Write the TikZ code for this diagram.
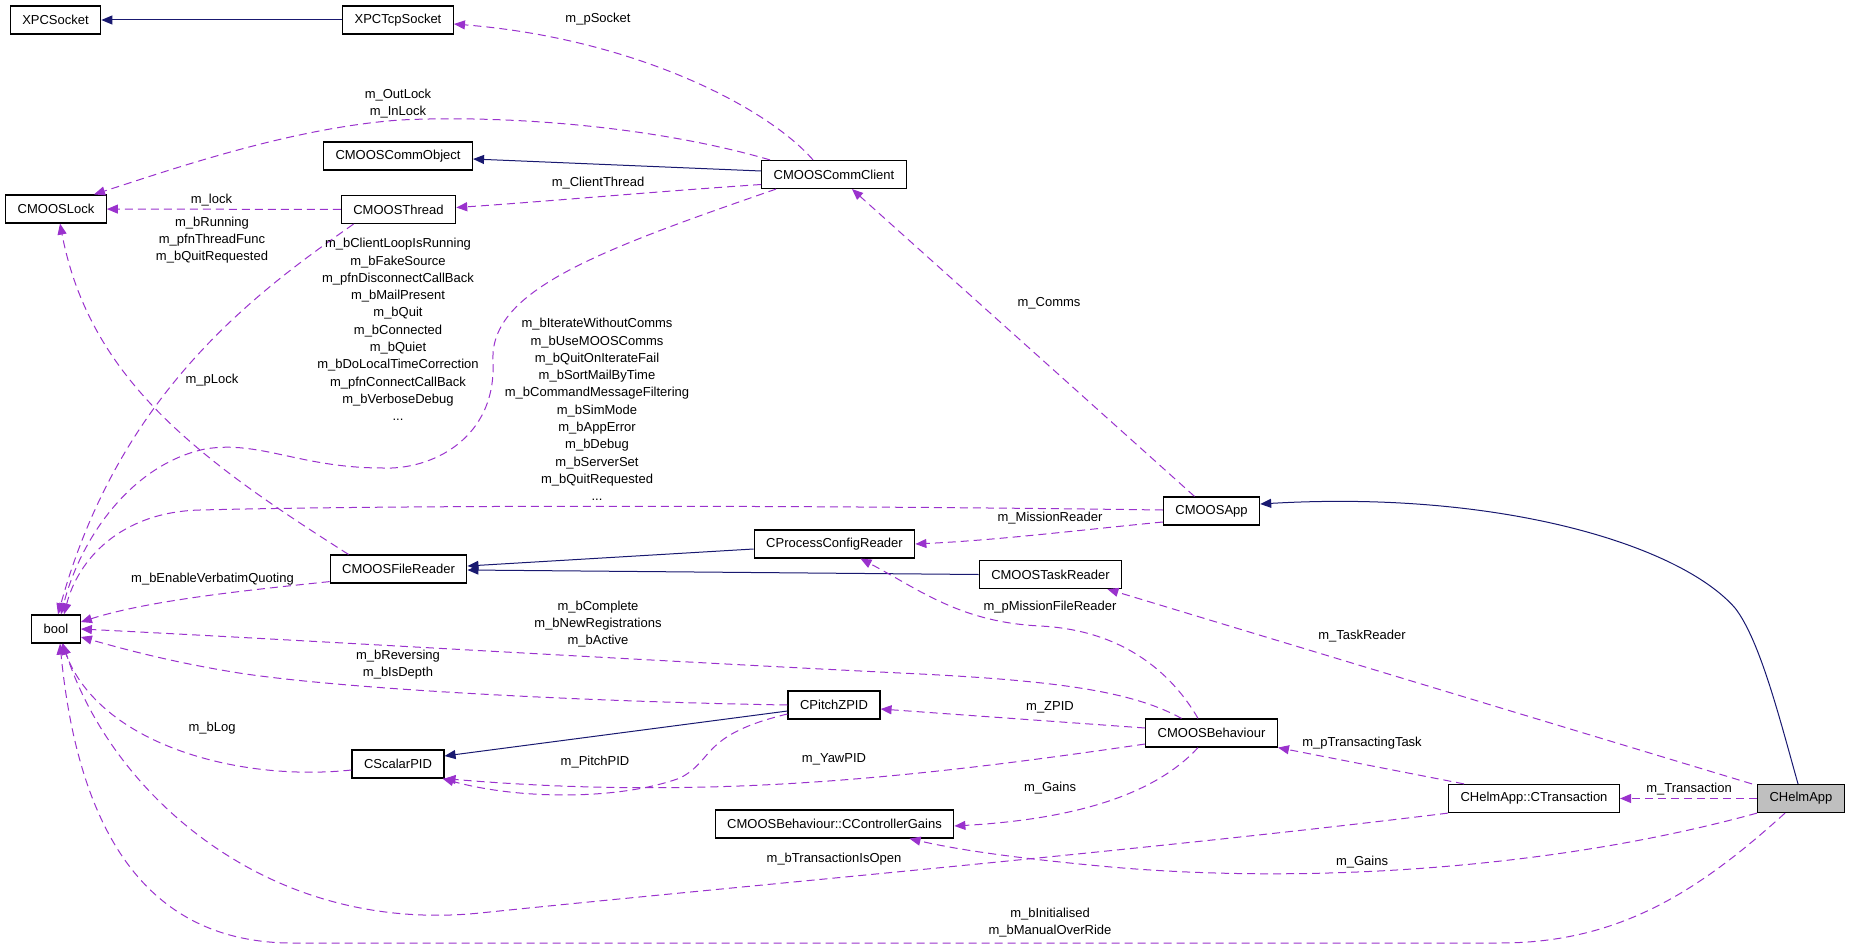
\documentclass[tikz,border=0pt]{standalone}
\usepackage{fontspec}
\setmainfont{Liberation Sans}
\usetikzlibrary{arrows.meta}
\definecolor{depc}{HTML}{9A32CD}
\definecolor{inhc}{HTML}{191970}

\begin{document}
\begin{tikzpicture}
          [x=1pt, y=-1pt,
           cls/.style={rectangle,draw=black,fill=white,line width=1.2pt,
                       minimum height=28pt,inner xsep=12pt,inner ysep=0pt},
           cur/.style={cls,fill=black!25},
           lbl/.style={align=center,inner sep=0pt},
           inh/.style={draw=inhc,line width=1pt,-{Triangle[length=11pt,width=9pt]}},
           dep/.style={draw=depc,line width=1pt,dash pattern=on 8pt off 5pt,
                       -{Triangle[length=11pt,width=9pt]}},
           every node/.style={font=\fontsize{13}{17.3}\selectfont}
          ]
          \useasboundingbox (0,0) rectangle (1851,949);
          \node[cls] (xsock) at (55.5,20) {XPCSocket};
          \node[cls] (xtcp) at (398,20) {XPCTcpSocket};
          \node[cls] (cobj) at (398,156) {CMOOSCommObject};
          \node[cls] (lock) at (56,209) {CMOOSLock};
          \node[cls] (thread) at (398.5,209.5) {CMOOSThread};
          \node[cls] (client) at (834,174.5) {CMOOSCommClient};
          \node[cls] (bool) at (56,629) {bool};
          \node[cls] (freader) at (398.5,569) {CMOOSFileReader};
          \node[cls] (scalar) at (398,764) {CScalarPID};
          \node[cls] (pcr) at (834.5,544) {CProcessConfigReader};
          \node[cls] (treader) at (1050.5,574.5) {CMOOSTaskReader};
          \node[cls] (app) at (1211.5,511) {CMOOSApp};
          \node[cls] (pitch) at (834,705) {CPitchZPID};
          \node[cls] (beh) at (1211.5,733) {CMOOSBehaviour};
          \node[cls] (gains) at (834.5,824) {CMOOSBehaviour::CControllerGains};
          \node[cls] (trans) at (1534,798.5) {CHelmApp::CTransaction};
          \node[cur] (helm) at (1801,798.5) {CHelmApp};

          % inheritance
          \draw[inh] (xtcp) -- (xsock);
          \draw[inh] ([yshift=3.5pt]client.west) -- ([yshift=-3pt]cobj.east);
          \draw[inh] ([yshift=-5pt]pcr.west) -- ([yshift=3pt]freader.east);
          \draw[inh] (treader.west) -- ([yshift=-1pt]freader.east);
          \draw[inh] ([yshift=-6pt]pitch.west) -- ([yshift=8pt]scalar.east);
          \draw[inh] ([xshift=-3pt]helm.north) .. controls (1780,720) and (1760,640) .. (1735,608)
                     .. controls (1680,545) and (1500,490) .. ([yshift=7pt]app.east);

          % members
          \draw[dep] ([xshift=-21pt]client.north) .. controls (765,105) and (630,38) .. ([yshift=-4pt]xtcp.east);
          \draw[dep] ([xshift=-64pt]client.north) .. controls (650,125) and (500,115) .. (400,120)
                     .. controls (290,128) and (170,170) .. ([xshift=38pt]lock.north);
          \draw[dep] ([yshift=-10pt]client.west) .. controls (650,192) and (540,202) .. ([yshift=2pt]thread.east);
          \draw[dep] (thread) -- (lock);
          \draw[dep] ([xshift=-58pt]client.south) .. controls (600,250) and (490,290) .. (493,360)
                     .. controls (497,440) and (430,470) .. (383,468)
                     .. controls (300,468) and (260,440) .. (205,449)
                     .. controls (130,465) and (80,540) .. ([xshift=5pt]bool.north);
          \draw[dep] ([xshift=-45pt]thread.south) .. controls (260,290) and (120,390) .. ([xshift=2pt]bool.north);
          \draw[dep] ([yshift=1pt]app.west) .. controls (800,505) and (400,505) .. (200,510)
                     .. controls (120,512) and (78,560) .. ([xshift=8pt]bool.north);
          \draw[dep] ([xshift=-50pt]freader.north) .. controls (200,460) and (90,380) .. ([xshift=4pt]lock.south);
          \draw[dep] ([xshift=-17pt]app.north) -- ([xshift=18pt]client.south);
          \draw[dep] ([yshift=-11pt]app.west) .. controls (1080,530) and (1000,540) .. (pcr.east);
          \draw[dep] ([xshift=-5pt]helm.north west) -- ([xshift=-15pt]treader.south east);
          \draw[dep] ([xshift=-13.5pt]beh.north) .. controls (1170,670) and (1120,630) .. (1040,626)
                     .. controls (960,622) and (920,590) .. ([xshift=26pt]pcr.south);
          \draw[dep] ([xshift=-30pt]beh.north) .. controls (1130,690) and (1050,680) .. (900,673)
                     .. controls (600,658) and (300,640) .. (bool.east);
          \draw[dep] ([yshift=2pt]freader.south west) .. controls (250,590) and (150,600) .. ([yshift=7pt]bool.east);
          \draw[dep] (pitch.west) .. controls (600,702) and (350,690) .. (239,673)
                     .. controls (170,662) and (120,648) .. ([yshift=-8pt]bool.east);
          \draw[dep] ([yshift=5pt]beh.west) -- ([yshift=-4pt]pitch.east);
          \draw[dep] ([yshift=-11pt]beh.west) .. controls (900,780) and (700,800) .. (scalar.south east);
          \draw[dep] ([yshift=-9pt]pitch.west) .. controls (700,735) and (715,760) .. (680,778)
                     .. controls (620,800) and (520,800) .. ([xshift=-2pt]scalar.south east);
          \draw[dep] ([yshift=-6pt]scalar.west) .. controls (240,782) and (100,745) .. ([xshift=6pt]bool.south);
          \draw[dep] ([xshift=-13.5pt]beh.south) .. controls (1150,800) and (1060,820) .. ([yshift=-2pt]gains.east);
          \draw[dep] ([xshift=-70pt]trans.north) -- (beh.south east);
          \draw[dep] (helm) -- (trans);
          \draw[dep] (trans.south west) .. controls (1150,850) and (750,885) .. (480,913)
                     .. controls (264,935) and (110,790) .. ([xshift=7pt]bool.south);
          \draw[dep] (helm.south west) .. controls (1550,870) and (1300,885) .. (1100,866)
                     .. controls (1000,856.5) and (950,848) .. ([xshift=75pt]gains.south);
          \draw[dep] ([xshift=-16pt]helm.south) .. controls (1700,890) and (1620,943) .. (1500,943)
                     -- (300,943) .. controls (200,945) and (85,900) .. ([xshift=4pt]bool.south);

          % labels
          \node[lbl] (lsocket) at (598,19) {m\_pSocket};
          \node[lbl] (llocks) at (398,103.5) {m\_OutLock\\m\_InLock};
          \node[lbl] (llock) at (211.5,200) {m\_lock};
          \node[lbl] (lrun) at (212,240) {m\_bRunning\\m\_pfnThreadFunc\\m\_bQuitRequested};
          \node[lbl] (lcthread) at (598,183) {m\_ClientThread};
          \node[lbl] (lclient) at (398,329.5) {m\_bClientLoopIsRunning\\m\_bFakeSource\\m\_pfnDisconnectCallBack\\m\_bMailPresent\\m\_bQuit\\m\_bConnected\\m\_bQuiet\\m\_bDoLocalTimeCorrection\\m\_pfnConnectCallBack\\m\_bVerboseDebug\\...};
          \node[lbl] (lapp) at (597,409.5) {m\_bIterateWithoutComms\\m\_bUseMOOSComms\\m\_bQuitOnIterateFail\\m\_bSortMailByTime\\m\_bCommandMessageFiltering\\m\_bSimMode\\m\_bAppError\\m\_bDebug\\m\_bServerSet\\m\_bQuitRequested\\...};
          \node[lbl] (lplock) at (212,380) {m\_pLock};
          \node[lbl] (lcomms) at (1049,303) {m\_Comms};
          \node[lbl] (lmission) at (1050,518) {m\_MissionReader};
          \node[lbl] (lverb) at (212.5,579) {m\_bEnableVerbatimQuoting};
          \node[lbl] (lmfr) at (1050,607) {m\_pMissionFileReader};
          \node[lbl] (ltask) at (1362,636) {m\_TaskReader};
          \node[lbl] (lbeh) at (598,624) {m\_bComplete\\m\_bNewRegistrations\\m\_bActive};
          \node[lbl] (lrev) at (398,664.5) {m\_bReversing\\m\_bIsDepth};
          \node[lbl] (lzpid) at (1050,707) {m\_ZPID};
          \node[lbl] (llog) at (212,728) {m\_bLog};
          \node[lbl] (ltt) at (1362,743) {m\_pTransactingTask};
          \node[lbl] (lyaw) at (834,759) {m\_YawPID};
          \node[lbl] (lpitch) at (595,762) {m\_PitchPID};
          \node[lbl] (ltrans) at (1689,789) {m\_Transaction};
          \node[lbl] (lgains) at (1050,788) {m\_Gains};
          \node[lbl] (lopen) at (834,859) {m\_bTransactionIsOpen};
          \node[lbl] (lhgains) at (1362,862) {m\_Gains};
          \node[lbl] (linit) at (1050,922.5) {m\_bInitialised\\m\_bManualOverRide};
        \end{tikzpicture}
\end{document}
